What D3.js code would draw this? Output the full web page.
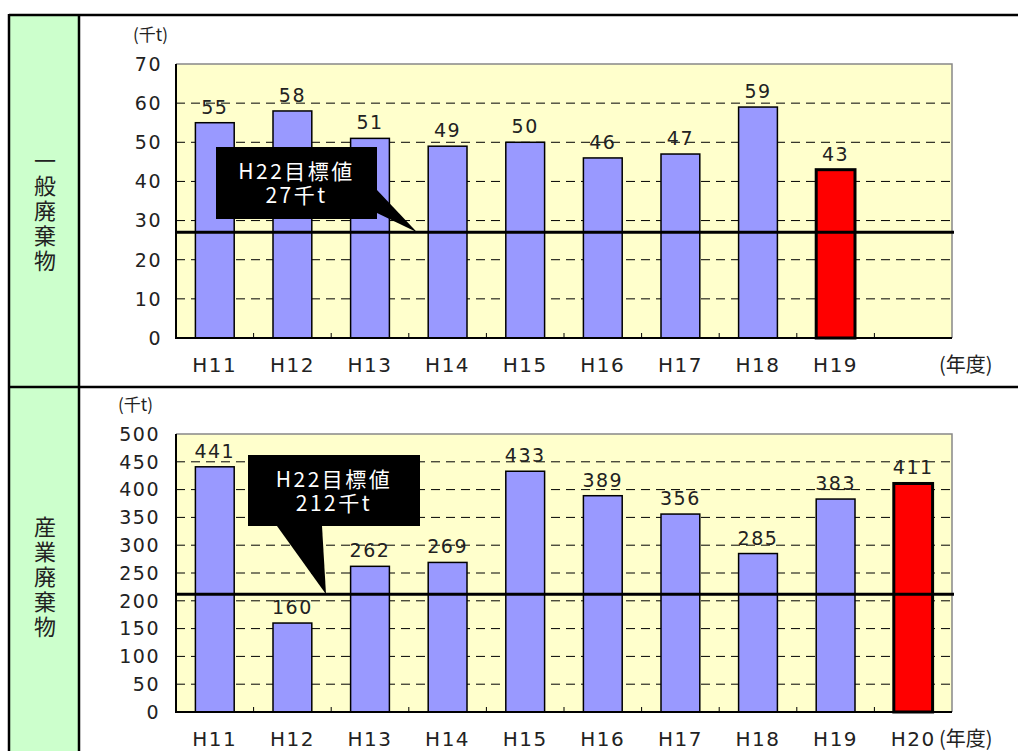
<!DOCTYPE html>
<html>
<head>
<meta charset="utf-8">
<script src="https://cdn.jsdelivr.net/npm/d3@7"></script>
<style>
	body { margin: 0; background: #fff; }
	svg { display: block; }
	text { font-family: "DejaVu Sans", "Noto Sans CJK JP", sans-serif; fill: #222; }
	.jp { font-family: "Noto Sans CJK JP", sans-serif; }
</style>
</head>
<body>
<svg id="chart" width="1018" height="751"></svg>
<script>

// data
var years = ["H11", "H12", "H13", "H14", "H15", "H16", "H17", "H18", "H19", "H20"];

var generalYears = ["H11", "H12", "H13", "H14", "H15", "H16", "H17", "H18", "H19"];
var generalVals = [55, 58, 51, 49, 50, 46, 47, 59, 43];
var generalTarget = 27;
var generalTicks = [0, 10, 20, 30, 40, 50, 60, 70];

var industYears = ["H11", "H12", "H13", "H14", "H15", "H16", "H17", "H18", "H19", "H20"];
var industVals = [441, 160, 262, 269, 433, 389, 356, 285, 383, 411];
var industTarget = 212;
var industTicks = [0, 50, 100, 150, 200, 250, 300, 350, 400, 450, 500];

var svg = d3.select("#chart");

// table frame
svg.append("rect").attr("x", 9).attr("y", 15).attr("width", 70).attr("height", 740)
	.attr("fill", "#ccffcc");
svg.append("line").attr("x1", 9).attr("x2", 1018).attr("y1", 15).attr("y2", 15)
	.attr("stroke", "#000").attr("stroke-width", 2.5);
svg.append("line").attr("x1", 9).attr("x2", 1018).attr("y1", 387).attr("y2", 387)
	.attr("stroke", "#000").attr("stroke-width", 2.5);
svg.append("line").attr("x1", 9).attr("x2", 9).attr("y1", 14).attr("y2", 751)
	.attr("stroke", "#000").attr("stroke-width", 2.5);
svg.append("line").attr("x1", 79).attr("x2", 79).attr("y1", 14).attr("y2", 751)
	.attr("stroke", "#000").attr("stroke-width", 2.5);

// vertical row headers
function rowhead(str, y0)	{
	svg.append("text")
		.attr("class", "jp")
		.attr("x", 45)
		.attr("y", y0)
		.attr("writing-mode", "vertical-rl")
		.attr("font-size", 22)
		.attr("letter-spacing", 3)
		.text(str);
}
rowhead("一般廃棄物", 150);
rowhead("産業廃棄物", 516);

function panel(p)	{

	var g = svg.append("g");

	var x = d3.scaleBand().domain(years)
		.range([176, 952])
		.paddingInner(0.5)
		.paddingOuter(0.25);
	var y = d3.scaleLinear().domain([0, p.ticks[p.ticks.length - 1]])
		.range([p.bottom, p.top]);

	// plot area
	g.append("rect")
		.attr("x", 176).attr("y", y.range()[1])
		.attr("width", 776).attr("height", y.range()[0] - y.range()[1])
		.attr("fill", "#ffffcc");

	// grid
	g.selectAll(".grid")
		.data(p.ticks.slice(1, -1))
		.join("line")
			.attr("x1", 176).attr("x2", 952)
			.attr("y1", d => y(d)).attr("y2", d => y(d))
			.attr("stroke", "#000").attr("stroke-width", 1)
			.attr("stroke-dasharray", "9,6");

	// border top / right
	g.append("path")
		.attr("d", `M176,${y.range()[1]}H952V${y.range()[0]}`)
		.attr("fill", "none").attr("stroke", "#888").attr("stroke-width", 1.5);

	// bars
	g.selectAll(".bar")
		.data(p.vals)
		.join("rect")
			.attr("x", (d, i) => x(p.years[i]))
			.attr("y", d => y(d))
			.attr("width", x.bandwidth())
			.attr("height", d => y(0) - y(d))
			.attr("fill", (d, i) => i === p.vals.length - 1 ? "#ff0000" : "#9999ff")
			.attr("stroke", "#000")
			.attr("stroke-width", (d, i) => i === p.vals.length - 1 ? 3 : 1.5);

	// value labels
	g.selectAll(".val")
		.data(p.vals)
		.join("text")
			.attr("x", (d, i) => x(p.years[i]) + x.bandwidth() / 2)
			.attr("y", d => y(d) - 9)
			.attr("text-anchor", "middle")
			.attr("font-size", 19)
			.attr("letter-spacing", 1.5)
			.text(d => d);

	// target line
	g.append("line")
		.attr("x1", 176).attr("x2", 954)
		.attr("y1", y(p.target)).attr("y2", y(p.target))
		.attr("stroke", "#000").attr("stroke-width", 3);

	// axes
	g.append("path")
		.attr("d", `M176,${y.range()[1]}V${y(0)}H952`)
		.attr("fill", "none").attr("stroke", "#000").attr("stroke-width", 2);

	g.selectAll(".xtick")
		.data(years.slice(1))
		.join("line")
			.attr("x1", d => x(d) - x.step() * x.paddingInner() / 2)
			.attr("x2", d => x(d) - x.step() * x.paddingInner() / 2)
			.attr("y1", y(0)).attr("y2", y(0) - 5)
			.attr("stroke", "#000").attr("stroke-width", 1);

	g.selectAll(".ylab")
		.data(p.ticks)
		.join("text")
			.attr("x", p.tickRight)
			.attr("y", d => y(d))
			.attr("dy", "0.36em")
			.attr("text-anchor", "end")
			.attr("font-size", 19)
			.attr("letter-spacing", 1.5)
			.text(d => d);

	g.selectAll(".xlab")
		.data(p.years)
		.join("text")
			.attr("x", d => x(d) + x.bandwidth() / 2)
			.attr("y", y(0) + 34)
			.attr("text-anchor", "middle")
			.attr("font-size", 20)
			.attr("letter-spacing", 1.5)
			.text(d => d);

	g.append("text").attr("class", "jp")
		.attr("x", 939).attr("y", y(0) + 34)
		.attr("font-size", 20)
		.text("(年度)");

	g.append("text").attr("class", "jp")
		.attr("x", p.unitX).attr("y", p.top - 23)
		.attr("font-size", 17)
		.text("(千t)");

	// callout
	var c = p.callout;
	var tipY = y(p.target);
	g.append("path")
		.attr("d", `M${c.x},${c.y}H${c.x + c.w}V${c.y + c.h}H${c.x}Z`)
		.attr("fill", "#000");
	g.append("path")
		.attr("d", `M${c.p[0][0]},${c.p[0][1]}L${c.tipX},${tipY}L${c.p[1][0]},${c.p[1][1]}Z`)
		.attr("fill", "#000");
	g.append("text")
		.attr("class", "jp")
		.attr("text-anchor", "middle")
		.attr("font-size", 21)
		.attr("letter-spacing", 2.5)
		.style("fill", "#fff")
		.selectAll("tspan")
		.data(c.lines)
		.join("tspan")
			.attr("x", c.x + c.w / 2)
			.attr("y", (d, i) => c.y + c.h / 2 - 4 + i * 24)
			.style("fill", "#fff")
			.text(d => d);
}

panel({
	years: generalYears, vals: generalVals, target: generalTarget, ticks: generalTicks,
	top: 64, bottom: 338, tickRight: 162, unitX: 133,
	callout: { x: 216, y: 147, w: 161, h: 72, p: [[377, 190], [377, 213]], tipX: 417,
		lines: ["H22目標値", generalTarget + "千t"] }
});

panel({
	years: industYears, vals: industVals, target: industTarget, ticks: industTicks,
	top: 434, bottom: 712, tickRight: 160, unitX: 118,
	callout: { x: 248, y: 455, w: 172, h: 71, p: [[277, 526], [322, 526]], tipX: 326,
		lines: ["H22目標値", industTarget + "千t"] }
});

</script>
</body>
</html>
